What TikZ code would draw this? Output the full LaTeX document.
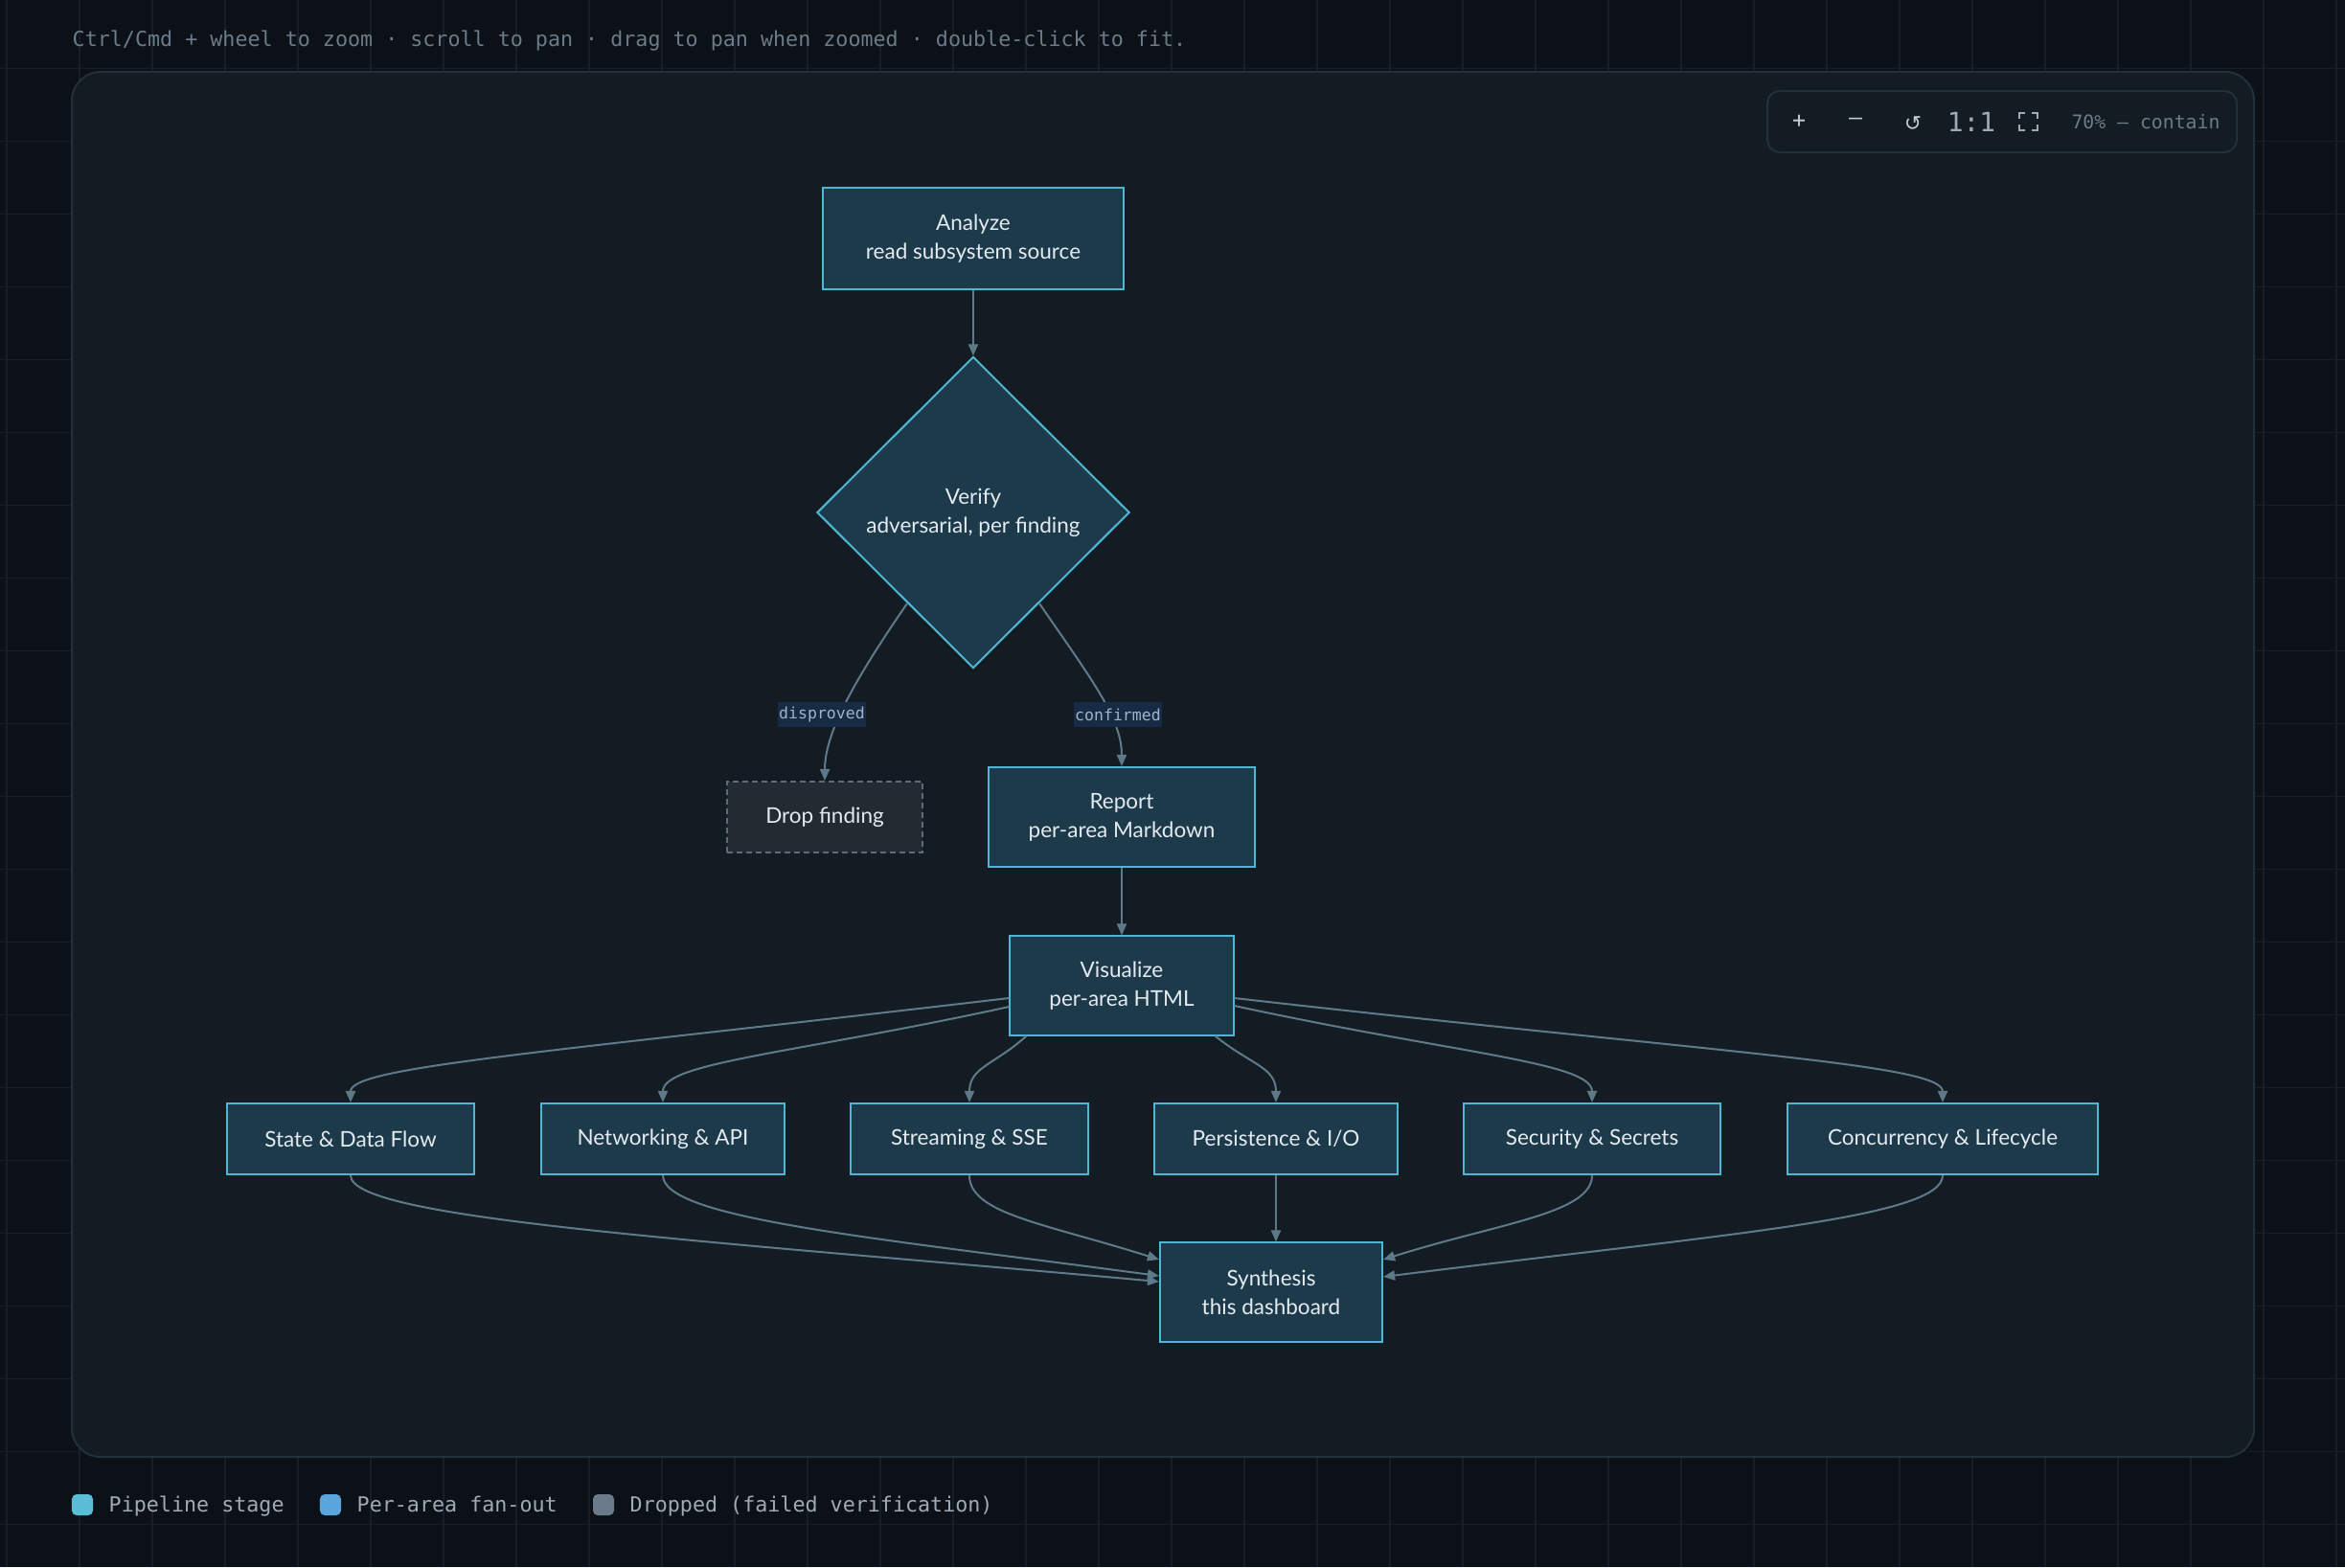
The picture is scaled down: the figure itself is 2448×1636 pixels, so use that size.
\documentclass[tikz,border=0pt]{standalone}
\usepackage{fontspec}
\setmainfont{Lato}
\newfontfamily\codefont{DejaVu Sans Mono}
\newfontfamily\glyphfont{DejaVu Sans}
\usetikzlibrary{shapes.geometric, arrows.meta}
\definecolor{pagebg}{HTML}{0C1118}
\definecolor{gridln}{HTML}{161F28}
\definecolor{panelbg}{HTML}{141C23}
\definecolor{panelln}{HTML}{243039}
\definecolor{stagefill}{HTML}{1D3A4B}
\definecolor{stageln}{HTML}{4FB6D3}
\definecolor{dropfill}{HTML}{232A32}
\definecolor{dropln}{HTML}{5F6B78}
\definecolor{flowln}{HTML}{5E7A89}
\definecolor{lblfill}{HTML}{172B45}
\definecolor{lbltext}{HTML}{9FB4C8}
\definecolor{nodetext}{HTML}{E3EAF0}
\definecolor{hinttext}{HTML}{6B7B88}
\definecolor{legendtext}{HTML}{9FAAB5}
\definecolor{toolbtn}{HTML}{C0CCD6}
\definecolor{swstage}{HTML}{5BBCD6}
\definecolor{swfanout}{HTML}{5AA5DC}
\definecolor{swdrop}{HTML}{6B7B8B}

\begin{document}
\begin{tikzpicture}[x=0.01cm, y=-0.01cm,
 stage/.style={draw=stageln, fill=stagefill, line width=0.02cm, text=nodetext, align=center, inner sep=0pt, font=\fontsize{6.4}{8.5}\selectfont},
 area/.style={stage, minimum height=0.74cm},
 dropped/.style={stage, draw=dropln, fill=dropfill, dash pattern=on 0.06cm off 0.04cm},
 flow/.style={draw=flowln, line width=0.02cm, -{Triangle[length=0.12cm, width=0.1cm]}},
 edgelbl/.style={fill=lblfill, text=lbltext, inner xsep=0.01cm, inner ysep=0pt, minimum height=0.26cm, font=\codefont\fontsize{4.7}{5}\selectfont},
 hint/.style={inner sep=0pt, anchor=base west, font=\codefont\fontsize{6.17}{7}\selectfont},
 swatch/.style={minimum size=0.22cm, inner sep=0pt, rounded corners=0.05cm}]
 \fill[pagebg] (0,0) rectangle (2448,1636);
 \useasboundingbox (0,0) rectangle (2448,1636);
 % background grid
 \foreach \gx in {0,...,32} \draw[gridln, line width=0.015cm] (7+76*\gx,0) -- (7+76*\gx,1636);
 \foreach \gy in {0,...,20} \draw[gridln, line width=0.015cm] (0,71.7+76*\gy) -- (2448,71.7+76*\gy);
 \node[hint, text=hinttext] (hint) at (75,48) {Ctrl/Cmd + wheel to zoom · scroll to pan · drag to pan when zoomed · double-click to fit.};
 \draw[fill=panelbg, draw=panelln, line width=0.02cm, rounded corners=0.3cm] (75,75) rectangle (2353,1521);

 % zoom toolbar
 \draw[fill=panelbg, draw=panelln, line width=0.02cm, rounded corners=0.13cm] (1845,95) rectangle (2335,159);
 \node[text=toolbtn, font=\codefont\fontsize{6.6}{7}\selectfont] (zoomin) at (1878,127) {+};
 \node[text=toolbtn, font=\codefont\fontsize{6.6}{7}\selectfont] (zoomout) at (1937,127) {–};
 \node[text=toolbtn, font=\glyphfont\fontsize{6.2}{7}\selectfont] (zoomreset) at (1997,129) {↺};
 \node[text=legendtext, font=\codefont\fontsize{7.9}{9}\selectfont] (zoomone) at (2058,127) {1:1};
 \draw[legendtext, line width=0.02cm] (2108,124) |- (2114,118) (2121,118) -| (2127,124) (2127,130) |- (2121,136) (2114,136) -| (2108,130);
 \node[text=hinttext, font=\codefont\fontsize{5.63}{7}\selectfont] (zoomlvl) at (2240,127) {70\% — contain};

 % pipeline
 \node[stage, minimum width=3.13cm, minimum height=1.06cm] (analyze) at (1016,249) {Analyze\\read subsystem source};
 \node[stage, diamond, minimum width=3.26cm, minimum height=3.25cm] (verify) at (1016,535) {Verify\\adversarial, per finding};
 \node[dropped, minimum width=2.04cm, minimum height=0.74cm] (drop) at (861,853) {Drop finding};
 \node[stage, minimum width=2.77cm, minimum height=1.04cm] (report) at (1171,853) {Report\\per-area Markdown};
 \node[stage, minimum width=2.33cm, minimum height=1.03cm] (vis) at (1171,1029) {Visualize\\per-area HTML};
 \node[area, minimum width=2.58cm] (state) at (366,1189) {State \& Data Flow};
 \node[area, minimum width=2.53cm] (net) at (692,1189) {Networking \& API};
 \node[area, minimum width=2.47cm] (stream) at (1012,1189) {Streaming \& SSE};
 \node[area, minimum width=2.53cm] (pers) at (1332,1189) {Persistence \& I/O};
 \node[area, minimum width=2.67cm] (sec) at (1662,1189) {Security \& Secrets};
 \node[area, minimum width=3.24cm] (conc) at (2028,1189) {Concurrency \& Lifecycle};
 \node[stage, minimum width=2.32cm, minimum height=1.03cm] (syn) at (1327,1349) {Synthesis\\this dashboard};

 \draw[flow] (analyze) -- (verify);
 \draw[flow] (verify.234) .. controls +(-55,80) and +(0,-50) .. (drop.north);
 \draw[flow] (verify.306) .. controls +(55,80) and +(0,-50) .. (report.north);
 \node[edgelbl] (lbldisproved) at (858,746) {disproved};
 \node[edgelbl] (lblconfirmed) at (1167,746) {confirmed};
 \draw[flow] (report) -- (vis);

 % fan-out
 \draw[flow] ([yshift=-0.13cm]vis.west) .. controls +(-494,58) and +(0,-37) .. (state.north);
 \draw[flow] ([yshift=-0.22cm]vis.west) .. controls +(-224,49) and +(0,-42) .. (net.north);
 \draw[flow] ([xshift=0.18cm]vis.south west) .. controls +(-33,30) and +(0,-37) .. (stream.north);
 \draw[flow] ([xshift=-0.2cm]vis.south east) .. controls +(37,30) and +(0,-37) .. (pers.north);
 \draw[flow] ([yshift=-0.21cm]vis.east) .. controls +(231,50) and +(0,-42) .. (sec.north);
 \draw[flow] ([yshift=-0.13cm]vis.east) .. controls +(511,58) and +(0,-40) .. (conc.north);

 % fan-in
 \draw[flow] (state.south) .. controls +(0,45) and +(-500,-45) .. ([yshift=0.11cm]syn.west);
 \draw[flow] (net.south) .. controls +(0,45) and +(-300,-40) .. ([yshift=0.17cm]syn.west);
 \draw[flow] (stream.south) .. controls +(0,40) and +(-120,-38) .. ([yshift=0.34cm]syn.west);
 \draw[flow] (pers.south) -- (pers.south |- syn.north);
 \draw[flow] (sec.south) .. controls +(0,40) and +(120,-38) .. ([yshift=0.34cm]syn.east);
 \draw[flow] (conc.south) .. controls +(0,45) and +(350,-44) .. ([yshift=0.16cm]syn.east);

 % legend
 \node[swatch, fill=swstage] (swpipe) at (86,1571) {};
 \node[hint, text=legendtext] (lgpipe) at (113,1578) {Pipeline stage};
 \node[swatch, fill=swfanout] (swarea) at (345,1571) {};
 \node[hint, text=legendtext] (lgarea) at (372,1578) {Per-area fan-out};
 \node[swatch, fill=swdrop] (swdrop) at (630,1571) {};
 \node[hint, text=legendtext] (lgdrop) at (657,1578) {Dropped (failed verification)};
\end{tikzpicture}
\end{document}
